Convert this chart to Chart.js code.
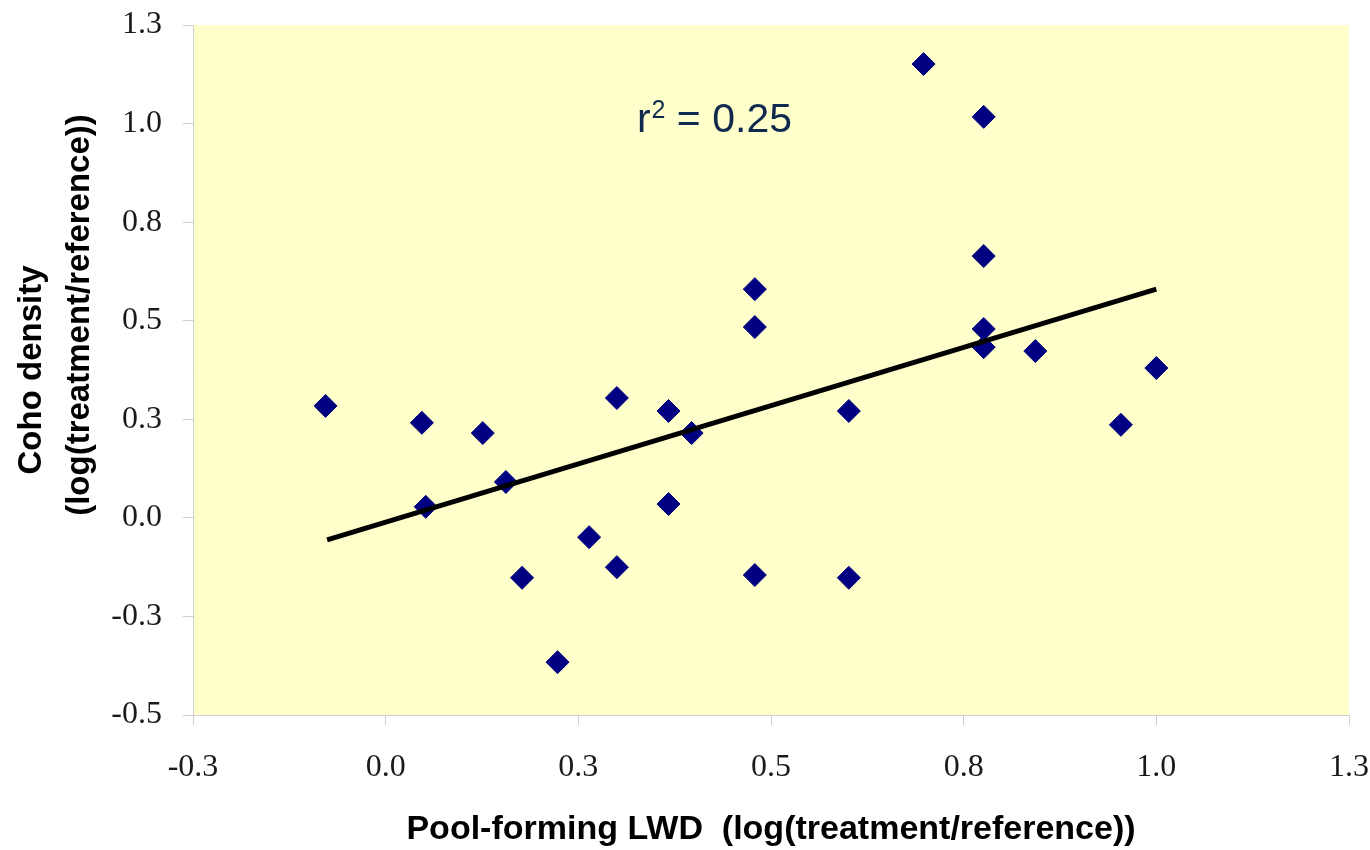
<!DOCTYPE html>
<html>
<head>
<meta charset="utf-8">
<title>Coho density vs pool-forming LWD</title>
<script src="https://cdn.jsdelivr.net/npm/chart.js@4/dist/chart.umd.min.js"></script>
<style>
  html, body { margin: 0; padding: 0; background: #ffffff; }
  #wrap { width: 1370px; height: 850px; }
</style>
</head>
<body>
<div id="wrap"><canvas id="chart" width="1370" height="850"></canvas></div>
<script>
// Coho density vs pool-forming LWD, both as log(treatment/reference)

// ---------------- DATA ----------------
const lwdValues = [
  -0.078, 0.047, 0.052, 0.126, 0.156, 0.177, 0.223, 0.264, 0.300, 0.300,
  0.367, 0.367, 0.397, 0.479, 0.479, 0.479, 0.601, 0.601, 0.698, 0.776,
  0.776, 0.776, 0.776, 0.843, 0.954, 1.000
];
const cohoValues = [
  0.284, 0.241, 0.028, 0.215, 0.091, -0.152, -0.366, -0.049, 0.304, -0.125,
  0.271, 0.035, 0.215, 0.580, 0.484, -0.145, 0.271, -0.152, 1.151, 1.017,
  0.664, 0.479, 0.433, 0.423, 0.236, 0.380
];

// fitted regression line (end points)
const trendX = [-0.076, 1.0];
const trendY = [-0.056, 0.580];

const xTicks = [-0.25, 0, 0.25, 0.5, 0.75, 1.0, 1.25];
const xTickLabels = ["-0.3", "0.0", "0.3", "0.5", "0.8", "1.0", "1.3"];
const yTicks = [-0.5, -0.25, 0, 0.25, 0.5, 0.75, 1.0, 1.25];
const yTickLabels = ["-0.5", "-0.3", "0.0", "0.3", "0.5", "0.8", "1.0", "1.3"];

const xTitle = "Pool-forming LWD  (log(treatment/reference))";
const yTitleLines = ["Coho density", "(log(treatment/reference))"];
const r2Text = { base: "r", sup: "2", rest: " = 0.25", x: 0.326, y: 0.978 };

// ---------------- PLUGINS ----------------
const plotBackground = {
  id: "plotBackground",
  beforeDraw(chart) {
    const { ctx, chartArea: a } = chart;
    ctx.save();
    ctx.fillStyle = "#FFFFCC";
    ctx.fillRect(a.left, a.top, a.right - a.left, a.bottom - a.top);
    ctx.restore();
  },
};

// y title drawn by hand: the two lines are not centred on each other
const yTitle = {
  id: "yTitle",
  afterDraw(chart) {
    const ctx = chart.ctx;
    const spots = [
      { x: 41, y: 370 },
      { x: 89, y: 315 },
    ];
    ctx.save();
    ctx.font = "bold 33px 'Liberation Sans', Arial, sans-serif";
    ctx.fillStyle = "#000000";
    ctx.textAlign = "center";
    ctx.textBaseline = "alphabetic";
    yTitleLines.forEach((line, i) => {
      ctx.save();
      ctx.translate(spots[i].x, spots[i].y);
      ctx.rotate(-Math.PI / 2);
      ctx.fillText(line, 0, 0);
      ctx.restore();
    });
    ctx.restore();
  },
};

const r2Label = {
  id: "r2Label",
  afterDatasetsDraw(chart) {
    const { ctx, scales } = chart;
    let x = scales.x.getPixelForValue(r2Text.x);
    const y = scales.y.getPixelForValue(r2Text.y);
    ctx.save();
    ctx.fillStyle = "#10294F";
    ctx.textAlign = "left";
    ctx.textBaseline = "alphabetic";
    ctx.font = "41px 'Liberation Sans', Arial, sans-serif";
    ctx.fillText(r2Text.base, x, y);
    x += ctx.measureText(r2Text.base).width + 1;
    ctx.font = "25px 'Liberation Sans', Arial, sans-serif";
    ctx.fillText(r2Text.sup, x, y - 14);
    x += ctx.measureText(r2Text.sup).width;
    ctx.font = "41px 'Liberation Sans', Arial, sans-serif";
    ctx.fillText(r2Text.rest, x, y);
    ctx.restore();
  },
};

// ---------------- CHART ----------------
const points = lwdValues.map((v, i) => ({ x: v, y: cohoValues[i] }));
const trend = trendX.map((v, i) => ({ x: v, y: trendY[i] }));

const axisGrey = "#cfcfcf";
const tickFont = { family: "'Liberation Serif', 'Times New Roman', serif", size: 32 };

new Chart(document.getElementById("chart"), {
  type: "scatter",
  data: {
    datasets: [
      {
        label: "Trend",
        data: trend,
        showLine: true,
        borderColor: "#000000",
        borderWidth: 5,
        pointRadius: 0,
        order: 0,
      },
      {
        label: "Coho density",
        data: points,
        pointStyle: "rectRot",
        pointRadius: 11.5,
        pointBackgroundColor: "#000080",
        pointBorderColor: "#000080",
        pointBorderWidth: 1,
        order: 1,
      },
    ],
  },
  options: {
    responsive: false,
    animation: false,
    layout: { padding: { top: 25, right: 21, bottom: 0, left: 0 } },
    plugins: {
      legend: { display: false },
      tooltip: { enabled: false },
    },
    scales: {
      x: {
        type: "linear",
        position: "bottom",
        min: -0.25,
        max: 1.25,
        afterBuildTicks: (s) => { s.ticks = xTicks.map((v) => ({ value: v })); },
        afterFit: (s) => {
          s.height = 135;
          s.paddingLeft = 0;
          s.paddingRight = 0;
        },
        ticks: {
          callback: (v, i) => xTickLabels[i],
          font: tickFont,
          color: "#1a1a1a",
          padding: 23,
          maxRotation: 0,
          autoSkip: false,
        },
        grid: { drawOnChartArea: false, color: axisGrey, tickLength: 10 },
        border: { color: axisGrey },
        title: {
          display: true,
          text: xTitle,
          color: "#000000",
          font: { family: "'Liberation Sans', Arial, sans-serif", size: 34, weight: "bold" },
          padding: { top: 0, bottom: 0 },
        },
      },
      y: {
        type: "linear",
        min: -0.5,
        max: 1.25,
        afterBuildTicks: (s) => { s.ticks = yTicks.map((v) => ({ value: v })); },
        afterFit: (s) => {
          s.width = 193;
          s.paddingTop = 0;
          s.paddingBottom = 0;
        },
        ticks: {
          callback: (v, i) => yTickLabels[i],
          font: tickFont,
          color: "#1a1a1a",
          padding: 21,
          autoSkip: false,
        },
        grid: { drawOnChartArea: false, color: axisGrey, tickLength: 10 },
        border: { color: axisGrey },
      },
    },
  },
  plugins: [plotBackground, yTitle, r2Label],
});
</script>
</body>
</html>
